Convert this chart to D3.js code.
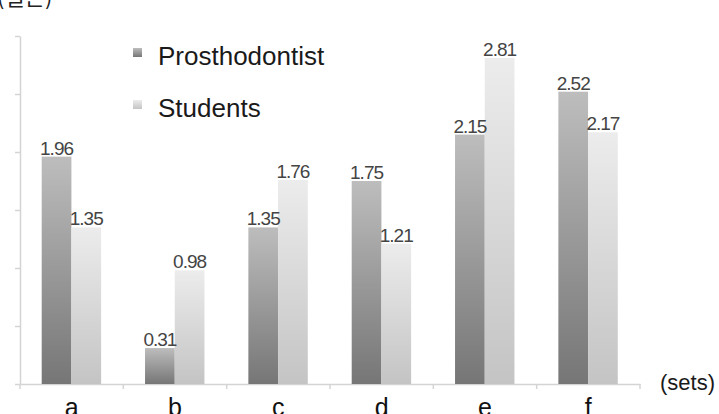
<!DOCTYPE html>
<meta charset="utf-8">
<style>
body { margin: 0; background: #fff; }
svg { display: block; }
.axis path, .axis line { stroke: #d4d4d4; stroke-width: 1.5px; }
.axis text { display: none; }
.val { font: 19px "Liberation Sans", Arial, sans-serif; letter-spacing: -1px; fill: #444; text-anchor: middle; }
.cat { font: 25px "Liberation Sans", Arial, sans-serif; fill: #111; text-anchor: middle; }
.leg { font: 26px "Liberation Sans", Arial, sans-serif; fill: #1a1a1a; }
</style>
<svg width="719" height="414"></svg>
<script src="https://d3js.org/d3.v7.min.js"></script>
<script>

var categories = ["a", "b", "c", "d", "e", "f"];
var seriesNames = ["Prosthodontist", "Students"];
var prosthodontist = [1.96, 0.31, 1.35, 1.75, 2.15, 2.52];
var students = [1.35, 0.98, 1.76, 1.21, 2.81, 2.17];
var yTicks = [0, 0.5, 1, 1.5, 2, 2.5, 3];

var svg = d3.select("svg");

// gradients, darker at the bottom of every bar
var defs = svg.append("defs");
var grads = [
  {id: "gP", top: "#bdbdbd", bottom: "#767676"},
  {id: "gS", top: "#ececec", bottom: "#c4c4c4"}
];
grads.forEach(function(g) {
  var lg = defs.append("linearGradient").attr("id", g.id)
      .attr("x1", 0).attr("y1", 0).attr("x2", 0).attr("y2", 1);
  lg.append("stop").attr("offset", "0%").attr("stop-color", g.top);
  lg.append("stop").attr("offset", "100%").attr("stop-color", g.bottom);
});

var x = d3.scaleBand().domain(categories).range([20, 640]).padding(0);
var xs = d3.scaleBand().domain(seriesNames)
    .range([x.bandwidth() * 0.21, x.bandwidth() * 0.785]);
var y = d3.scaleLinear().domain([0, 3]).range([384, 36]);

// axes
svg.append("g").attr("class", "axis")
    .attr("transform", "translate(20,0)")
    .call(d3.axisLeft(y).tickValues(yTicks).tickSize(5).tickSizeOuter(0));

svg.append("g").attr("class", "axis")
    .attr("transform", "translate(0,384)")
    .call(d3.axisBottom(x).tickSize(0).tickSizeOuter(0))
    .call(function(g) {
      g.selectAll(".bt").data(categories.concat(["_end"])).enter().append("line")
        .attr("x1", function(d, i) { return 20 + i * x.step(); })
        .attr("x2", function(d, i) { return 20 + i * x.step(); })
        .attr("y1", 0).attr("y2", 5);
    });

var rows = categories.map(function(c, i) {
  return {cat: c, values: [
    {name: seriesNames[0], v: prosthodontist[i], fill: "url(#gP)"},
    {name: seriesNames[1], v: students[i], fill: "url(#gS)"}
  ]};
});

var group = svg.selectAll(".grp").data(rows).enter().append("g")
    .attr("transform", function(d) { return "translate(" + x(d.cat) + ",0)"; });

group.selectAll("rect").data(function(d) { return d.values; }).enter().append("rect")
    .attr("x", function(d) { return xs(d.name); })
    .attr("width", xs.bandwidth())
    .attr("y", function(d) { return y(d.v); })
    .attr("height", function(d) { return y(0) - y(d.v); })
    .attr("fill", function(d) { return d.fill; });

group.selectAll(".val").data(function(d) { return d.values; }).enter().append("text")
    .attr("class", "val")
    .attr("x", function(d) { return xs(d.name) + xs.bandwidth() / 2; })
    .attr("y", function(d) { return y(d.v) - 2; })
    .text(function(d) { return d.v.toFixed(2); });

// category labels (cut by the bottom edge, as in the source)
svg.selectAll(".cat").data(categories).enter().append("text")
    .attr("class", "cat")
    .attr("x", function(d) { return x(d) + x.bandwidth() / 2; })
    .attr("y", 416)
    .text(function(d) { return d; });

svg.append("text").attr("class", "leg").attr("x", 660).attr("y", 390)
    .style("font-size", "22px").text("(sets)");

// y unit label, mostly above the top edge
svg.append("text").attr("x", -3).attr("y", 5)
    .style("font", "22px 'Noto Sans CJK KR', sans-serif").style("fill", "#222")
    .text("(결손)");

// legend
var leg = svg.selectAll(".lg").data(seriesNames).enter().append("g")
    .attr("transform", function(d, i) { return "translate(133," + (48 + i * 52) + ")"; });
leg.append("rect").attr("width", 9).attr("height", 9)
    .attr("fill", function(d, i) { return i ? "url(#gS)" : "url(#gP)"; });
leg.append("text").attr("class", "leg").attr("x", 25).attr("y", 17)
    .text(function(d) { return d; });

</script>
